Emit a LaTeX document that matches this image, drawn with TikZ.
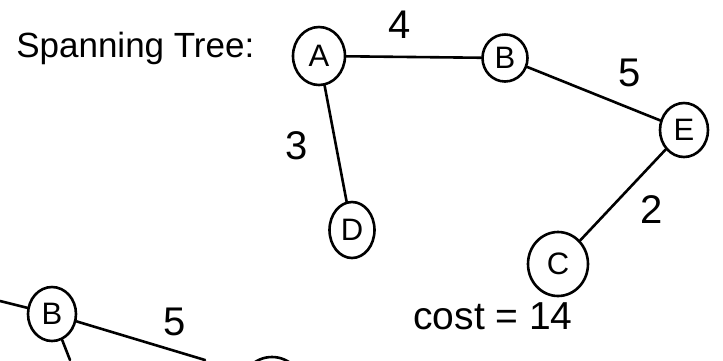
\documentclass[tikz,border=0pt]{standalone}
\usepackage{fontspec}
\setmainfont{Liberation Sans}
\usetikzlibrary{shapes.geometric}
\begin{document}
\begin{tikzpicture}[x=1pt,y=-1pt,line width=2.6pt,line cap=round,
  vtx/.style={draw,ellipse,inner sep=0pt,font=\fontsize{31}{35}\selectfont},
  wlabel/.style={inner sep=0pt,font=\fontsize{40}{44}\selectfont},
  title/.style={inner sep=0pt,anchor=west,font=\fontsize{35}{40}\selectfont}]
\useasboundingbox (0,0) rectangle (723,360);
\fill[white] (0,0) rectangle (723,360);
% title
\node[title] (title) at (15,48) {Spanning Tree:};
% tree vertices
\node[vtx,minimum width=52pt,minimum height=58pt] (A) at (319,56) {A};
\node[vtx,minimum width=45pt,minimum height=47pt] (B) at (505,58) {B};
\node[vtx,minimum width=48pt,minimum height=54pt] (E) at (684,130) {E};
\node[vtx,minimum width=45pt,minimum height=56pt] (D) at (352,230) {D};
\node[vtx,minimum width=60pt,minimum height=64pt] (C) at (558,264) {C};
% tree edges
\draw (A) -- (B);
\draw (B) -- (E);
\draw (A) -- (D);
\draw (E) -- (C);
% weights
\node[wlabel] (w4) at (400,25) {4};
\node[wlabel] (w5) at (630,73) {5};
\node[wlabel] (w3) at (297,146) {3};
\node[wlabel] (w2) at (652,210) {2};
% cost
\node[inner sep=0pt,font=\fontsize{39}{44}\selectfont] (cost) at (493,316) {cost = 14};
% bottom partial graph
\node[vtx,minimum width=48pt,minimum height=54pt] (B2) at (52,314) {B};
\coordinate (L) at (0,301);
\coordinate (R) at (205,360);
\coordinate (Dn) at (70,360);
\draw (L) -- (B2);
\draw (B2) -- (R);
\draw (B2) -- (Dn);
\node[wlabel] (w5b) at (175,322) {5};
\begin{scope}
\clip (0,0) rectangle (723,360);
\draw (272,388) circle[radius=31];
\end{scope}
\end{tikzpicture}
\end{document}
